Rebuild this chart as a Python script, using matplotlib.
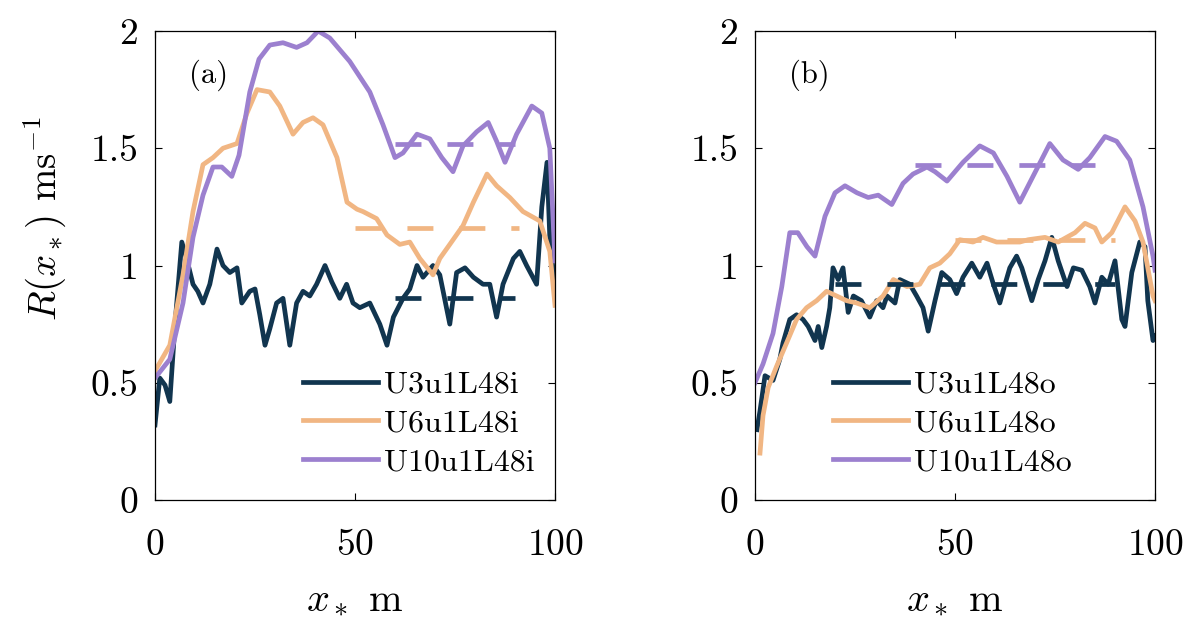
import numpy as np
from matplotlib import pyplot as plt

plt.rcParams['font.family'] = 'cmr10'
plt.rcParams['mathtext.fontset'] = 'cm'
plt.rcParams['axes.formatter.use_mathtext'] = True

# colours of the three runs
c_dark = '#11354f'
c_orange = '#f1b683'
c_purple = '#9c80cf'

# ---- panel (a): inner runs ----
a_u3_x = [0, 1.2, 2.5, 3.7, 5, 6.7, 7.9, 9.5, 10.7, 12, 13.7, 15.5, 17, 18.7, 20.5, 21.7,
          23.7, 25, 26.2, 27.5, 28.7, 30.4, 32, 33.7, 35.4, 37, 38.7, 40.4, 42.5, 44.2,
          46.2, 47.9, 49.5, 51.2, 53.7, 56.2, 58, 59.6, 62, 63.7, 65.5, 67, 69.5, 71.2,
          73.7, 75.4, 77.5, 79.6, 82, 83.7, 85.4, 87, 89.6, 91.2, 92.9, 95.4, 96.7, 98,
          98.7, 100]
a_u3_r = [0.32, 0.52, 0.49, 0.42, 0.75, 1.10, 1.03, 0.92, 0.89, 0.84, 0.92, 1.07, 1.00,
          0.97, 0.99, 0.84, 0.89, 0.90, 0.79, 0.66, 0.73, 0.84, 0.86, 0.66, 0.84, 0.89,
          0.87, 0.92, 1.00, 0.93, 0.86, 0.92, 0.84, 0.82, 0.84, 0.75, 0.66, 0.78, 0.86,
          0.90, 1.00, 0.95, 1.00, 0.96, 0.75, 0.97, 0.99, 0.95, 0.92, 0.92, 0.78, 0.92,
          1.03, 1.06, 1.00, 0.92, 1.25, 1.44, 1.12, 0.90]
a_u6_x = [0, 3.7, 7, 9.5, 12, 14.5, 17, 20.5, 23, 25.5, 28.7, 31.2, 34.5, 37, 39.5, 42,
          45.5, 48, 50.5, 52, 55.4, 58, 61.2, 63.7, 66.2, 69.5, 71.2, 73.7, 77, 79.6, 83,
          85.4, 88.7, 92, 96.2, 98.7, 100]
a_u6_r = [0.55, 0.66, 0.96, 1.23, 1.43, 1.46, 1.50, 1.52, 1.65, 1.75, 1.74, 1.68, 1.56,
          1.61, 1.63, 1.60, 1.46, 1.27, 1.24, 1.23, 1.20, 1.13, 1.09, 1.10, 1.03, 0.96,
          1.03, 1.09, 1.17, 1.27, 1.39, 1.34, 1.29, 1.23, 1.19, 1.06, 0.83]
a_u10_x = [0, 3.7, 7, 9.5, 12, 14.5, 16.7, 19.2, 21, 23.7, 26, 28.7, 32, 35.4, 38, 40.8,
           43.7, 48.7, 53.7, 57, 60, 62, 65.5, 68.7, 71.7, 74.5, 77, 80.4, 83.3, 85.4,
           87.5, 90.4, 94.2, 96.7, 98.7, 100]
a_u10_r = [0.52, 0.60, 0.84, 1.12, 1.30, 1.42, 1.42, 1.38, 1.47, 1.74, 1.88, 1.94, 1.95,
           1.93, 1.95, 2.00, 1.97, 1.87, 1.74, 1.60, 1.46, 1.48, 1.56, 1.54, 1.46, 1.40,
           1.51, 1.57, 1.61, 1.53, 1.44, 1.56, 1.68, 1.65, 1.50, 1.02]
# spatial means (dashed)
a_mean_x = [[60, 90], [50, 91], [60, 90]]
a_mean_r = [0.86, 1.16, 1.52]

# ---- panel (b): outer runs ----
b_u3_x = [0.5, 1.25, 2.5, 4.5, 6.2, 7, 8.7, 10.4, 12, 13.3, 15, 15.8, 16.7, 17.9, 18.7,
          19.5, 20.8, 22, 23.3, 24.6, 26.6, 28.7, 30.4, 32, 33, 35, 36.2, 38.7, 40.4, 42,
          43.3, 45, 46.7, 48.7, 50.4, 52, 54.2, 56.2, 58, 59.6, 61.2, 62.5, 63.7, 65.4,
          66.7, 69.2, 70.8, 72.5, 74.2, 75.8, 78, 79.6, 81.7, 83.7, 85, 86.7, 88.3, 90,
          91.7, 92.5, 94.2, 96.2, 97.5, 98.2, 99.5, 100]
b_u3_r = [0.30, 0.38, 0.53, 0.51, 0.60, 0.67, 0.77, 0.79, 0.77, 0.74, 0.68, 0.74, 0.65,
          0.74, 0.82, 0.99, 0.94, 0.99, 0.80, 0.87, 0.85, 0.78, 0.85, 0.82, 0.87, 0.84,
          0.94, 0.92, 0.87, 0.82, 0.72, 0.85, 0.97, 0.94, 0.88, 0.95, 1.01, 0.95, 1.01,
          0.92, 0.84, 0.92, 0.99, 1.04, 0.99, 0.85, 0.94, 1.02, 1.12, 1.02, 0.91, 0.99,
          0.98, 0.91, 0.84, 0.95, 0.92, 1.02, 0.77, 0.74, 0.97, 1.10, 1.08, 0.85, 0.68,
          0.70]
b_u6_x = [1.25, 2, 3.3, 5.4, 7.9, 10.4, 12.9, 15.4, 17.9, 20.4, 22.9, 25.4, 28.7, 32,
          34.6, 38, 41.2, 43.7, 46.2, 48.7, 51.2, 54.5, 57, 60.4, 63.7, 66.2, 68.3, 72.5,
          75.8, 80, 82.5, 85, 86.7, 89.2, 92.5, 95, 97, 98.2, 99.5, 100]
b_u6_r = [0.20, 0.36, 0.48, 0.57, 0.67, 0.77, 0.82, 0.85, 0.89, 0.87, 0.85, 0.84, 0.82,
          0.87, 0.94, 0.91, 0.92, 0.99, 1.01, 1.05, 1.11, 1.10, 1.12, 1.10, 1.10, 1.10,
          1.11, 1.12, 1.10, 1.14, 1.18, 1.16, 1.10, 1.14, 1.25, 1.19, 1.10, 0.99, 0.87,
          0.85]
b_u10_x = [0, 2, 4.5, 6.7, 8.7, 10.7, 13, 15, 17.5, 20, 22.5, 25.5, 28.3, 30.8, 34.2, 37,
           39.5, 43, 45, 48, 50.5, 52, 56.2, 59.6, 63, 66.2, 69.5, 73.7, 77, 80.8, 83.7,
           87.5, 90.4, 93.7, 97, 99.5, 100]
b_u10_r = [0.50, 0.58, 0.71, 0.91, 1.14, 1.14, 1.08, 1.04, 1.21, 1.31, 1.34, 1.31, 1.29,
           1.30, 1.26, 1.35, 1.39, 1.42, 1.40, 1.36, 1.41, 1.44, 1.51, 1.48, 1.38, 1.27,
           1.38, 1.52, 1.45, 1.41, 1.46, 1.55, 1.53, 1.45, 1.25, 1.04, 0.98]
b_mean_x = [[20, 90], [50, 90], [40, 85]]
b_mean_r = [0.92, 1.11, 1.43]

colors = [c_dark, c_orange, c_purple]


def draw_panel(ax, series, means_x, means_r, names, tag, leg_x):
    for (x, r), col, name in zip(series, colors, names):
        ax.plot(x, r, color=col, lw=3.4, label=name, solid_joinstyle='round')
    for mx, mr, col in zip(means_x, means_r, colors):
        ax.plot(mx, [mr, mr], color=col, lw=3.4, dashes=(5.5, 5.5))
    ax.set_xlim(0, 100)
    ax.set_ylim(0, 2)
    ax.set_xticks([0, 50, 100])
    ax.set_yticks([0, 0.5, 1, 1.5, 2])
    ax.set_yticklabels(['0', '0.5', '1', '1.5', '2'])
    ax.tick_params(direction='in', top=True, right=True, labelsize=27,
                   length=5, width=0.8)
    ax.tick_params(axis='x', pad=21)
    ax.tick_params(axis='y', pad=12)
    for s in ax.spines.values():
        s.set_linewidth(0.9)
    ax.text(0.085, 0.905, tag, transform=ax.transAxes, fontsize=22, ha='left', va='center')
    ax.set_xlabel(r'$x_*$ m', fontsize=29, labelpad=14)
    ax.legend(loc='lower left', bbox_to_anchor=(leg_x, 0.05), frameon=False,
              fontsize=23, handlelength=2.35, handletextpad=0.2, labelspacing=0.33,
              borderpad=0, borderaxespad=0)


fig = plt.figure(figsize=(11.9, 6.22), dpi=100)
ax1 = fig.add_axes([155 / 1190, 122 / 622, 400 / 1190, 469 / 622])
ax2 = fig.add_axes([755 / 1190, 122 / 622, 400 / 1190, 469 / 622])

draw_panel(ax1, [(a_u3_x, a_u3_r), (a_u6_x, a_u6_r), (a_u10_x, a_u10_r)],
           a_mean_x, a_mean_r, ['U3u1L48i', 'U6u1L48i', 'U10u1L48i'], '(a)', 0.37)
draw_panel(ax2, [(b_u3_x, b_u3_r), (b_u6_x, b_u6_r), (b_u10_x, b_u10_r)],
           b_mean_x, b_mean_r, ['U3u1L48o', 'U6u1L48o', 'U10u1L48o'], '(b)', 0.195)

ax1.set_ylabel(r'$R(x_*)$ ms$^{-1}$', fontsize=28)
ax1.yaxis.set_label_coords(-0.215, 0.6)

fig.savefig('out.png', dpi=100)
